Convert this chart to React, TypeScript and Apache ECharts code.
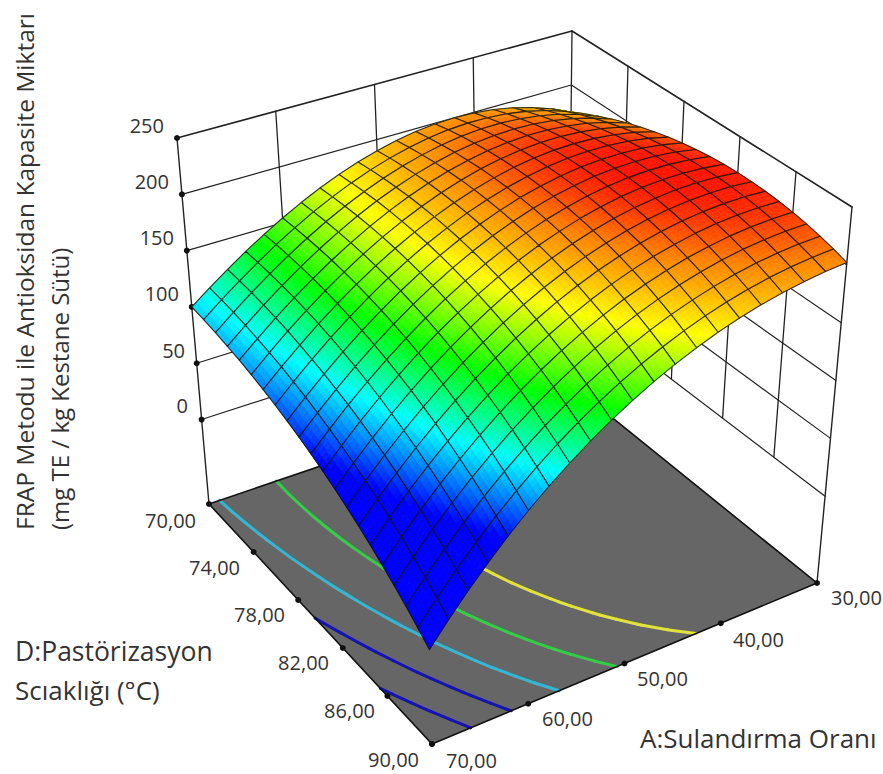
import React, { useEffect, useRef } from "react";
import * as echarts from "echarts";

const A_GRID = [30, 32, 34, 36, 38, 40, 42, 44, 46, 48, 50, 52, 54, 56, 58, 60, 62, 64, 66, 68, 70];
const D_GRID = [70, 71, 72, 73, 74, 75, 76, 77, 78, 79, 80, 81, 82, 83, 84, 85, 86, 87, 88, 89, 90];
const Z_ROWS = [
  [175.0, 183.0, 189.4, 194.2, 197.6, 199.5, 200.1, 199.4, 197.4, 194.3, 190.0, 184.7, 178.4, 171.2, 163.1, 154.2, 144.6, 134.3, 123.4, 111.9, 100.1],
  [181.7, 189.1, 195.0, 199.3, 202.2, 203.7, 203.8, 202.7, 200.3, 196.8, 192.2, 186.6, 179.9, 172.4, 164.0, 154.7, 144.8, 134.1, 122.8, 111.0, 98.7],
  [187.7, 194.6, 200.0, 203.8, 206.2, 207.3, 207.0, 205.5, 202.8, 198.9, 194.0, 188.0, 181.0, 173.1, 164.4, 154.8, 144.5, 133.5, 121.9, 109.6, 97.0],
  [193.3, 199.6, 204.4, 207.8, 209.8, 210.4, 209.7, 207.8, 204.8, 200.5, 195.3, 188.9, 181.7, 173.5, 164.4, 154.5, 143.9, 132.5, 120.5, 107.9, 94.8],
  [198.3, 204.0, 208.4, 211.2, 212.8, 213.0, 211.9, 209.7, 206.2, 201.7, 196.1, 189.5, 181.9, 173.3, 164.0, 153.8, 142.8, 131.1, 118.8, 105.8, 92.4],
  [202.7, 207.9, 211.7, 214.2, 215.3, 215.1, 213.7, 211.0, 207.3, 202.4, 196.4, 189.5, 181.6, 172.8, 163.1, 152.6, 141.3, 129.3, 116.7, 103.4, 89.5],
  [206.5, 211.3, 214.6, 216.6, 217.2, 216.7, 214.9, 211.9, 207.8, 202.6, 196.3, 189.1, 180.9, 171.8, 161.8, 151.0, 139.5, 127.2, 114.1, 100.5, 86.3],
  [209.8, 214.1, 216.9, 218.4, 218.7, 217.7, 215.6, 212.2, 207.8, 202.3, 195.8, 188.2, 179.8, 170.4, 160.1, 149.0, 137.2, 124.6, 111.2, 97.2, 82.7],
  [212.6, 216.3, 218.7, 219.8, 219.6, 218.3, 215.8, 212.1, 207.4, 201.5, 194.7, 186.9, 178.2, 168.5, 158.0, 146.6, 134.5, 121.6, 107.9, 93.6, 78.7],
  [214.8, 218.0, 219.9, 220.6, 220.0, 218.3, 215.5, 211.5, 206.4, 200.3, 193.2, 185.1, 176.1, 166.2, 155.4, 143.8, 131.4, 118.2, 104.2, 89.6, 74.4],
  [216.4, 219.1, 220.6, 220.8, 219.9, 217.8, 214.6, 210.3, 205.0, 198.6, 191.3, 182.9, 173.6, 163.5, 152.4, 140.5, 127.8, 114.4, 100.2, 85.2, 69.7],
  [217.5, 219.7, 220.7, 220.6, 219.3, 216.9, 213.3, 208.7, 203.1, 196.5, 188.8, 180.2, 170.7, 160.3, 149.0, 136.9, 123.9, 110.2, 95.7, 80.5, 64.6],
  [218.0, 219.8, 220.4, 219.8, 218.1, 215.4, 211.5, 206.6, 200.7, 193.8, 185.9, 177.1, 167.3, 156.7, 145.2, 132.8, 119.6, 105.6, 90.8, 75.3, 59.1],
  [217.9, 219.3, 219.4, 218.5, 216.5, 213.4, 209.2, 204.0, 197.9, 190.7, 182.6, 173.5, 163.5, 152.6, 140.9, 128.3, 114.8, 100.6, 85.6, 69.8, 53.3],
  [217.3, 218.2, 218.0, 216.6, 214.3, 210.8, 206.4, 200.9, 194.5, 187.1, 178.7, 169.4, 159.2, 148.1, 136.2, 123.4, 109.7, 95.2, 79.9, 63.9, 47.1],
  [216.2, 216.6, 216.0, 214.3, 211.6, 207.8, 203.1, 197.4, 190.7, 183.0, 174.4, 164.9, 154.5, 143.2, 131.0, 118.0, 104.1, 89.4, 73.9, 57.6, 40.5],
  [214.5, 214.5, 213.4, 211.4, 208.3, 204.3, 199.3, 193.3, 186.4, 178.5, 169.7, 160.0, 149.4, 137.9, 125.5, 112.2, 98.1, 83.2, 67.5, 50.9, 33.6],
  [212.2, 211.8, 210.3, 207.9, 204.6, 200.2, 194.9, 188.7, 181.6, 173.5, 164.5, 154.5, 143.8, 132.1, 119.5, 106.1, 91.8, 76.6, 60.6, 43.8, 26.2],
  [209.3, 208.5, 206.7, 204.0, 200.3, 195.7, 190.1, 183.7, 176.3, 168.0, 158.8, 148.7, 137.7, 125.8, 113.1, 99.5, 85.0, 69.6, 53.4, 36.4, 18.6],
  [206.0, 204.7, 202.5, 199.5, 195.5, 190.6, 184.8, 178.1, 170.5, 162.0, 152.6, 142.3, 131.2, 119.2, 106.2, 92.4, 77.8, 62.2, 45.8, 28.6, 10.5],
  [202.0, 200.4, 197.8, 194.4, 190.2, 185.0, 179.0, 172.0, 164.2, 155.6, 146.0, 135.6, 124.2, 112.0, 99.0, 85.0, 70.2, 54.4, 37.8, 20.4, 2.1],
];
const Z_TICKS = [0, 50, 100, 150, 200, 250];
const A_TICKS = [30, 40, 50, 60, 70];
const D_TICKS = [70, 74, 78, 82, 86, 90];
const CONTOUR_LEVELS = [38, 72, 107, 142, 177];
const CONTOUR_COLORS = ["#1414b4", "#1414b4", "#35b6d2", "#35cc48", "#e2e23c"];
const Z_FLOOR = -75;
const Z_TOP = 250;

// Where the box's corners fall on the page; the reference's ticks are evenly spaced
// along every edge, so positions inside the box blend these corners.
const C_BACK_LOW = [568, 382];
const C_BACK_TOP = [572, 31];
const C_LEFT_LOW = [209, 504];
const C_LEFT_TOP = [177, 138];
const C_RIGHT_LOW = [817, 583];
const C_RIGHT_TOP = [852, 207];
const C_FRONT_LOW = [432, 744];
const C_FRONT_TOP = [421, 346];

function project(A: number, D: number, z: number): number[] {
  const u = (A - 30) / 40;
  const v = (D - 70) / 20;
  const w = (z - Z_FLOOR) / (Z_TOP - Z_FLOOR);
  return [0, 1].map((i) => {
    const low =
      C_BACK_LOW[i] * (1 - u) * (1 - v) + C_LEFT_LOW[i] * u * (1 - v) + C_RIGHT_LOW[i] * (1 - u) * v + C_FRONT_LOW[i] * u * v;
    const top =
      C_BACK_TOP[i] * (1 - u) * (1 - v) + C_LEFT_TOP[i] * u * (1 - v) + C_RIGHT_TOP[i] * (1 - u) * v + C_FRONT_TOP[i] * u * v;
    return low + (top - low) * w;
  });
}

const RAMP: [number, number[]][] = [
  [68, [0, 0, 255]],
  [106, [0, 255, 255]],
  [140, [0, 255, 0]],
  [177, [255, 255, 0]],
  [204, [255, 130, 0]],
  [220, [255, 20, 0]],
];
function zColor(z: number): string {
  if (z <= RAMP[0][0]) return `rgb(${RAMP[0][1].join(",")})`;
  for (let i = 1; i < RAMP.length; i++) {
    if (z <= RAMP[i][0]) {
      const t = (z - RAMP[i - 1][0]) / (RAMP[i][0] - RAMP[i - 1][0]);
      const c = RAMP[i - 1][1].map((v, k) => Math.round(v + (RAMP[i][1][k] - v) * t));
      return `rgb(${c.join(",")})`;
    }
  }
  return `rgb(${RAMP[RAMP.length - 1][1].join(",")})`;
}

function contourSegments(level: number): number[][][] {
  const segs: number[][][] = [];
  for (let r = 0; r < D_GRID.length - 1; r++) {
    for (let k = 0; k < A_GRID.length - 1; k++) {
      const corners = [[r, k], [r, k + 1], [r + 1, k + 1], [r + 1, k]];
      const hits: number[][] = [];
      for (let e = 0; e < 4; e++) {
        const [r0, k0] = corners[e];
        const [r1, k1] = corners[(e + 1) % 4];
        const z0 = Z_ROWS[r0][k0];
        const z1 = Z_ROWS[r1][k1];
        if ((z0 < level) !== (z1 < level)) {
          const t = (level - z0) / (z1 - z0);
          hits.push([A_GRID[k0] + (A_GRID[k1] - A_GRID[k0]) * t, D_GRID[r0] + (D_GRID[r1] - D_GRID[r0]) * t]);
        }
      }
      if (hits.length === 2) segs.push(hits);
    }
  }
  return segs;
}

const DARK = "#222222";
const wallLine = (c: any, a: number[], b: number[], lw = 1.3) => ({
  type: "line",
  silent: true,
  shape: { x1: c(a)[0], y1: c(a)[1], x2: c(b)[0], y2: c(b)[1] },
  style: { stroke: DARK, lineWidth: lw, lineCap: "round" },
});

function renderWalls(_: any, api: any) {
  const c = (p: number[]) => api.coord(project(p[0], p[1], p[2]));
  const kids: any[] = [];
  for (const z of Z_TICKS) {
    const lw = z === Z_TOP ? 1.6 : 1.2;
    kids.push(wallLine(c, [70, 70, z], [30, 70, z], lw));
    kids.push(wallLine(c, [30, 70, z], [30, 90, z], lw));
  }
  for (const A of [40, 50, 60]) kids.push(wallLine(c, [A, 70, 0], [A, 70, Z_TOP]));
  for (const D of [74, 78, 82, 86]) kids.push(wallLine(c, [30, D, 0], [30, D, Z_TOP]));
  kids.push(wallLine(c, [30, 70, 0], [30, 70, Z_TOP]));
  kids.push(wallLine(c, [70, 70, Z_FLOOR], [70, 70, Z_TOP], 1.4));
  kids.push(wallLine(c, [30, 90, Z_FLOOR], [30, 90, Z_TOP], 1.4));
  const floor = [[70, 70], [70, 90], [30, 90], [30, 70]].map((p) => c([p[0], p[1], Z_FLOOR]));
  kids.push({ type: "polygon", silent: true, shape: { points: floor }, style: { fill: "#666666" } });
  return { type: "group", children: kids };
}

function renderContour(_: any, api: any) {
  const idx = api.value(0);
  const c = (p: number[]) => api.coord(project(p[0], p[1], Z_FLOOR));
  const kids = contourSegments(CONTOUR_LEVELS[idx]).map(([a, b]) => ({
    type: "line",
    silent: true,
    shape: { x1: c(a)[0], y1: c(a)[1], x2: c(b)[0], y2: c(b)[1] },
    style: { stroke: CONTOUR_COLORS[idx], lineWidth: 3, lineCap: "round" },
  }));
  return { type: "group", children: kids };
}

function renderFloorEdges(_: any, api: any) {
  const c = (p: number[]) => api.coord(project(p[0], p[1], Z_FLOOR));
  const pts = [[70, 70], [70, 90], [30, 90], [30, 70], [70, 70]].map((p) => c(p));
  const kids: any[] = [{ type: "polyline", silent: true, shape: { points: pts }, style: { stroke: "#111", lineWidth: 1.6, fill: "none" } }];
  const dot = (p: number[]) => ({ type: "circle", silent: true, shape: { cx: p[0], cy: p[1], r: 3 }, style: { fill: "#111" } });
  for (const z of Z_TICKS) kids.push(dot(api.coord(project(70, 70, z))));
  for (const D of D_TICKS) kids.push(dot(c([70, D])));
  for (const A of A_TICKS) kids.push(dot(c([A, 90])));
  return { type: "group", children: kids };
}

const SUB = 4;
function renderCell(_: any, api: any) {
  const k = api.value(0);
  const r = api.value(1);
  const A0 = A_GRID[k], A1 = A_GRID[k + 1], D0 = D_GRID[r], D1 = D_GRID[r + 1];
  const z00 = Z_ROWS[r][k], z10 = Z_ROWS[r][k + 1], z01 = Z_ROWS[r + 1][k], z11 = Z_ROWS[r + 1][k + 1];
  const zAt = (s: number, t: number) => z00 * (1 - s) * (1 - t) + z10 * s * (1 - t) + z01 * (1 - s) * t + z11 * s * t;
  const pt = (s: number, t: number) => api.coord(project(A0 + (A1 - A0) * s, D0 + (D1 - D0) * t, zAt(s, t)));
  const kids: any[] = [];
  for (let j = 0; j < SUB; j++) {
    for (let i = 0; i < SUB; i++) {
      const s0 = i / SUB, s1 = (i + 1) / SUB, t0 = j / SUB, t1 = (j + 1) / SUB;
      const col = zColor(zAt((s0 + s1) / 2, (t0 + t1) / 2));
      kids.push({
        type: "polygon",
        silent: true,
        shape: { points: [pt(s0, t0), pt(s1, t0), pt(s1, t1), pt(s0, t1)] },
        style: { fill: col, stroke: col, lineWidth: 0.6 },
      });
    }
  }
  const outline = [pt(0, 0), pt(1, 0), pt(1, 1), pt(0, 1), pt(0, 0)];
  kids.push({
    type: "polyline",
    silent: true,
    shape: { points: outline },
    style: { stroke: "rgba(15,20,15,0.85)", lineWidth: 1.1, fill: "none", lineJoin: "round" },
  });
  return { type: "group", children: kids };
}

const FONT = '"Open Sans", sans-serif';
const label = (text: string, x: number, y: number, align: string, size = 20, rotation = 0) => ({
  type: "text",
  x,
  y,
  rotation,
  silent: true,
  style: { text, fill: "#333333", font: `${size}px ${FONT}`, textAlign: align, textVerticalAlign: "middle" },
});

const Z_LABEL_POS = [[188, 405], [185, 350], [179, 293], [174, 237], [169, 181], [164, 125]];
const D_LABEL_POS = [[196, 520], [240, 567], [285, 614], [329, 662], [375, 710], [419, 759]];
const A_LABEL_POS = [[831, 597], [733, 639], [637, 678], [542, 718], [446, 760]];
const fmt = (v: number) => v.toFixed(2).replace(".", ",");

export default function App() {
  const ref = useRef<HTMLDivElement>(null);
  useEffect(() => {
    const chart = echarts.init(ref.current!, null, { renderer: "svg" });
    const cells: number[][] = [];
    for (let r = 0; r < D_GRID.length - 1; r++) for (let k = 0; k < A_GRID.length - 1; k++) cells.push([k, r]);
    chart.setOption({
      animation: false,
      backgroundColor: "#ffffff",
      grid: { left: 0, right: 0, top: 0, bottom: 0 },
      xAxis: { type: "value", min: 0, max: 883, show: false },
      yAxis: { type: "value", min: 0, max: 774, inverse: true, show: false },
      series: [
        { type: "custom", silent: true, z: 1, renderItem: renderWalls, data: [[0, 0]] },
        { type: "custom", silent: true, z: 2, renderItem: renderContour, data: CONTOUR_LEVELS.map((_, i) => [i, 0]) },
        { type: "custom", silent: true, z: 3, renderItem: renderFloorEdges, data: [[0, 0]] },
        { type: "custom", silent: true, z: 4, renderItem: renderCell, data: cells },
      ],
      graphic: [
        ...Z_TICKS.map((v, i) => label(String(v), Z_LABEL_POS[i][0], Z_LABEL_POS[i][1], "right")),
        ...D_TICKS.map((v, i) => label(fmt(v), D_LABEL_POS[i][0], D_LABEL_POS[i][1], "right")),
        ...A_TICKS.map((v, i) => label(fmt(v), A_LABEL_POS[i][0], A_LABEL_POS[i][1], "left")),
        label("A:Sulandırma Oranı", 640, 738, "left", 26),
        label("D:Pastörizasyon", 15, 651, "left", 26.5),
        label("Scıaklığı (°C)", 15, 690, "left", 26),
        label("FRAP Metodu ile Antioksidan Kapasite Miktarı", 24, 530, "left", 24.5, Math.PI / 2),
        label("(mg TE / kg Kestane Sütü)", 59, 530, "left", 24, Math.PI / 2),
      ],
    });
    return () => chart.dispose();
  }, []);
  return <div ref={ref} style={{ position: "absolute", left: 0, top: 0, width: 883, height: 774 }} />;
}
